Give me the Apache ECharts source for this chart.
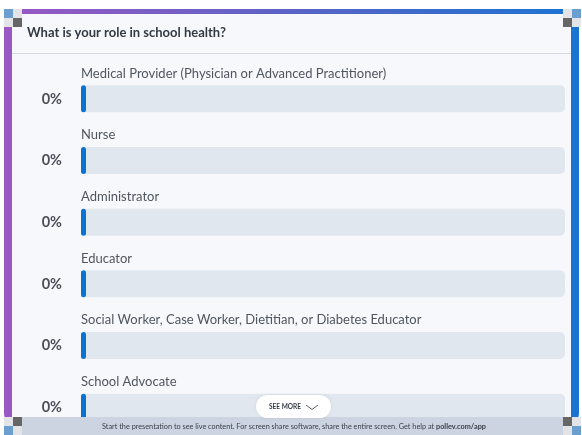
<!DOCTYPE html>
<html>
<head>
<meta charset="utf-8">
<script src="https://cdn.jsdelivr.net/npm/echarts@6/dist/echarts.min.js"></script>
<style>
html,body{margin:0;padding:0;background:#fff;}
#chart{width:582px;height:435px;}
</style>
</head>
<body>
<div id="chart"></div>
<script>
const title = 'What is your role in school health?';
const categories = [
  'Medical Provider (Physician or Advanced Practitioner)',
  'Nurse',
  'Administrator',
  'Educator',
  'Social Worker, Case Worker, Dietitian, or Diabetes Educator',
  'School Advocate'
];
const percents = [0, 0, 0, 0, 0, 0];
const footerText = 'Start the presentation to see live content. For screen share software, share the entire screen. Get help at ';
const footerLink = 'pollev.com/app';

const FONT = 'Lato, "Noto Sans", sans-serif';
const chart = echarts.init(document.getElementById('chart'), null, {renderer: 'canvas'});

function handle(x, y, blueCorner) {
  const s = 9;
  const cells = [];
  const pos = [[0,0],[1,0],[0,1],[1,1]];
  const outer = {tl:0, tr:1, bl:2, br:3}[blueCorner];
  const inner = 3 - outer;
  pos.forEach((p, i) => {
    let c = '#e2e4e7';
    if (i === outer) c = '#6b9fd0';
    if (i === inner) c = '#666666';
    cells.push({type:'rect', shape:{x:x + p[0]*s, y:y + p[1]*s, width:s, height:s}, style:{fill:c}, z:200});
  });
  return cells;
}

const graphics = [
  {type:'rect', shape:{x:4, y:9, width:575, height:415, r:10},
   style:{fill:new echarts.graphic.LinearGradient(0,0,1,0,[{offset:0,color:'#9a58c4'},{offset:0.5,color:'#5b63c6'},{offset:1,color:'#1a74d2'}])}, z:-10},
  {type:'rect', shape:{x:12, y:14, width:559, height:410, r:[8,8,0,0]}, style:{fill:'#f7f8fb'}, z:-9},
  {type:'text', x:27, y:33, style:{text:title, font:'bold 13px ' + FONT, fill:'#333a44', textVerticalAlign:'middle'}, z:5},
  {type:'line', shape:{x1:12, y1:53.5, x2:571, y2:53.5}, style:{stroke:'#d3d9e2', lineWidth:1}, z:5},
  {type:'rect', shape:{x:12, y:417, width:559, height:18}, style:{fill:'#cbd4e0'}, z:100},
  {type:'text', x:294, y:427, style:{text:footerText + '{b|' + footerLink + '}', font:'7.3px ' + FONT, fill:'#3a3f47', align:'center', verticalAlign:'middle',
     rich:{b:{fontWeight:'bold', fontSize:7.3, fontFamily:FONT, fill:'#3a3f47'}}}, z:101},
  {type:'rect', shape:{x:256, y:395, width:75, height:23, r:11.5}, style:{fill:'#ffffff', shadowBlur:3, shadowColor:'rgba(0,0,0,0.08)'}, z:102},
  {type:'text', x:285, y:406.5, style:{text:'SEE MORE', font:'bold 6.5px ' + FONT, fill:'#333a44', align:'center', verticalAlign:'middle'}, z:103},
  {type:'polyline', shape:{points:[[306,405],[312,409.5],[318,405]]}, style:{stroke:'#555b66', lineWidth:1, fill:null}, z:103}
].concat(handle(4,9,'tl'), handle(563,9,'tr'), handle(4,417,'bl'), handle(563,417,'br'));

chart.setOption({
  animation: false,
  backgroundColor: '#ffffff',
  grid: {left: 81, right: 17, top: 68, height: 370, containLabel: false, outerBoundsMode: 'none'},
  xAxis: {type: 'value', min: 0, max: 100, show: false},
  yAxis: {
    type: 'category', data: categories, inverse: true,
    axisLine: {show: false}, axisTick: {show: false}, splitLine: {show: false},
    axisLabel: {
      formatter: (v, i) => percents[i] + '%',
      margin: 19, fontSize: 14.5, fontWeight: 'bold', color: '#4a4f57', fontFamily: FONT
    }
  },
  series: [{
    type: 'bar',
    data: percents,
    barWidth: 27,
    barMinHeight: 5,
    showBackground: true,
    backgroundStyle: {color: '#e1e7ef', borderRadius: 5},
    itemStyle: {color: '#0a73d1', borderRadius: 3},
    label: {
      show: true,
      position: [0, -12],
      align: 'left',
      verticalAlign: 'middle',
      formatter: p => p.name,
      fontSize: 13, color: '#50565f', fontFamily: FONT
    },
    z: 2
  }],
  graphic: {elements: graphics}
});
</script>
</body>
</html>
